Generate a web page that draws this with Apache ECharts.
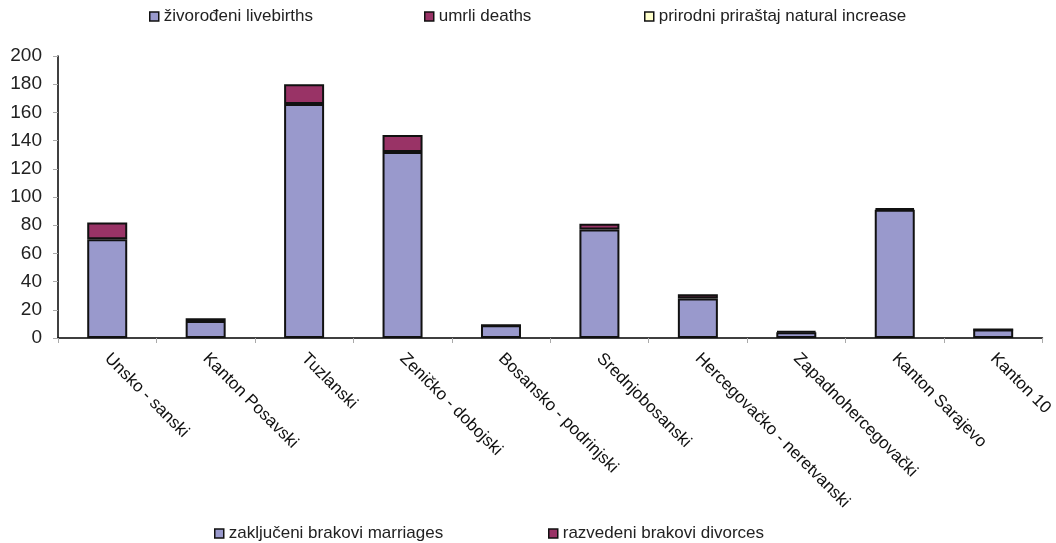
<!DOCTYPE html>
<html><head><meta charset="utf-8">
<script src="https://cdn.jsdelivr.net/npm/echarts@6/dist/echarts.min.js"></script>
<style>html,body{margin:0;padding:0;background:#fff}#c{width:1056px;height:543px}</style>
</head><body><div id="c"></div>
<script>
const categories = ['Unsko - sanski','Kanton Posavski','Tuzlanski','Zeničko - dobojski','Bosansko - podrinjski','Srednjobosanski','Hercegovačko - neretvanski','Zapadnohercegovački','Kanton Sarajevo','Kanton 10'];
const marriages = [70, 12, 166, 132, 9, 77, 28, 4, 91, 6];
const divorces = [12, 2, 14, 12, 0, 4, 3, 1, 1, 0];
const yTicks = [0, 20, 40, 60, 80, 100, 120, 140, 160, 180, 200];

const FONT = 'Liberation Sans';
const BLUE = '#9999CC', MAROON = '#993366', YELLOW = '#FFFFCC';
const legendText = {fontFamily: FONT, fontSize: 17, color: '#222'};
function lg(name, left, top) {
  return {data: [name], left: left, top: top, itemWidth: 9, itemHeight: 9, itemGap: 2,
    icon: 'rect', textStyle: legendText, padding: 0,
    itemStyle: {borderColor: '#111', borderWidth: 1.5}};
}
const chart = echarts.init(document.getElementById('c'));
chart.setOption({
  animation: false,
  legend: [
    lg('živorođeni livebirths', 149, 8),
    lg('umrli deaths', 424, 8),
    lg('prirodni priraštaj natural increase', 644, 8),
    lg('zaključeni brakovi marriages', 214, 525),
    lg('razvedeni brakovi divorces', 548, 525)
  ],
  grid: {left: 58, right: 11, top: 56, bottom: 205, containLabel: false},
  xAxis: {
    type: 'category', data: categories,
    axisLine: {lineStyle: {color: '#000', width: 1.5}},
    axisTick: {show: true, alignWithLabel: false, length: 5, lineStyle: {color: '#aaa'}},
    axisLabel: {rotate: -45, interval: 0, fontFamily: FONT, fontSize: 17, color: '#111', margin: 18}
  },
  yAxis: {
    type: 'value', min: yTicks[0], max: yTicks[yTicks.length - 1], interval: 20,
    axisLine: {show: true, lineStyle: {color: '#000', width: 1.5}},
    axisTick: {show: true, length: 5, lineStyle: {color: '#aaa'}},
    splitLine: {show: false},
    axisLabel: {fontFamily: FONT, fontSize: 19, color: '#222', margin: 16}
  },
  series: [
    {name: 'živorođeni livebirths', type: 'bar', stack: 's', data: [], itemStyle: {color: BLUE, borderColor: '#000', borderWidth: 1}},
    {name: 'umrli deaths', type: 'bar', stack: 's', data: [], itemStyle: {color: MAROON, borderColor: '#000', borderWidth: 1}},
    {name: 'prirodni priraštaj natural increase', type: 'bar', stack: 's', data: [], itemStyle: {color: YELLOW, borderColor: '#000', borderWidth: 1}},
    {name: 'zaključeni brakovi marriages', type: 'bar', stack: 's', data: marriages, barWidth: 40,
      itemStyle: {color: BLUE, borderColor: '#111', borderWidth: 2}},
    {name: 'razvedeni brakovi divorces', type: 'bar', stack: 's', data: divorces, barWidth: 40,
      itemStyle: {color: MAROON, borderColor: '#111', borderWidth: 2}}
  ]
});
</script></body></html>
